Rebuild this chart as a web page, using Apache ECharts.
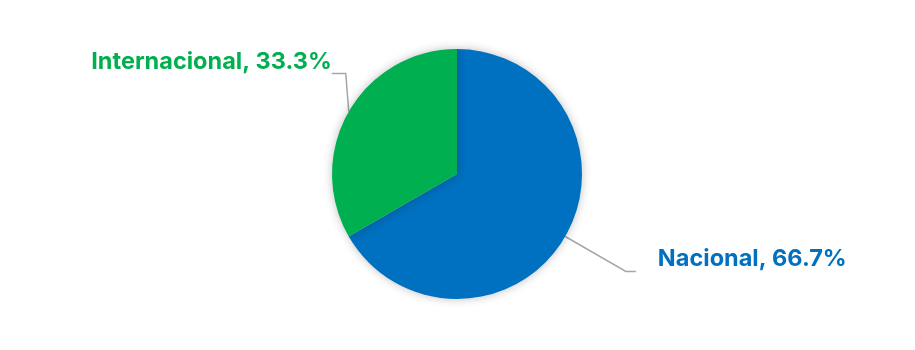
<!DOCTYPE html>
<html><head><meta charset="utf-8">
<script src="https://cdn.jsdelivr.net/npm/echarts@6/dist/echarts.min.js"></script>
<style>html,body{margin:0;padding:0;background:#fff}#c{width:915px;height:350px}</style>
</head><body><div id="c"></div>
<script>
const categories = ['Nacional', 'Internacional'];
const values = [2, 1];
const colors = ['#0070C0', '#00B050'];

const chart = echarts.init(document.getElementById('c'));
chart.setOption({
  animation: false,
  series: [{
    type: 'pie',
    center: [457, 174],
    radius: 125,
    startAngle: 90,
    clockwise: true,
    percentPrecision: 1,
    avoidLabelOverlap: false,
    data: categories.map((n, i) => ({
      name: n, value: values[i],
      itemStyle: { color: colors[i] },
      label: { color: colors[i] }
    })),
    itemStyle: { shadowBlur: 10, shadowColor: 'rgba(0,0,0,0.25)', borderWidth: 0 },
    label: {
      show: true, position: 'outside',
      formatter: p => p.name + ', ' + p.percent.toFixed(1) + '%',
      fontFamily: 'Inter', fontWeight: 'bold', fontSize: 23.5
    },
    labelLine: { show: true, length: 70, length2: 10, lineStyle: { color: '#A6A6A6', width: 1.5 } },
    labelLayout: function (params) {
      const pts = params.labelLinePoints;
      if (!pts) return {};
      if (params.dataIndex === 0) {
        return { x: pts[2][0] + 22, y: pts[2][1] - 13, align: 'left', verticalAlign: 'middle', labelLinePoints: pts };
      }
      const p0 = pts[0];
      const p1 = [p0[0] - 3, p0[1] - 38];
      const p2 = [p1[0] - 14, p1[1]];
      return { x: p2[0], y: p2[1] - 12, align: 'right', verticalAlign: 'middle', labelLinePoints: [p0, p1, p2] };
    }
  }]
});
</script></body></html>
